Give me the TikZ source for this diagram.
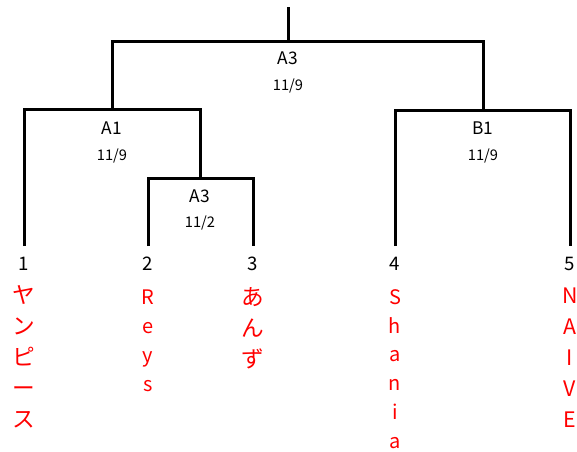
\documentclass[tikz,border=0pt]{standalone}
\usepackage{fontspec}
\setmainfont{Noto Sans CJK JP}
\usetikzlibrary{positioning}
\tikzset{
  bracket/.style={line width=2.25pt},
  matchname/.style={font=\fontsize{13}{15}\selectfont},
  matchdate/.style={font=\fontsize{11}{13}\selectfont},
  seed/.style={font=\fontsize{14}{16}\selectfont},
  player/.style={text=red,align=center,anchor=north,inner sep=0pt,font=\fontsize{17}{23.25}\selectfont},
  latinplayer/.style={player,font=\fontsize{15}{21.6}\selectfont},
}

\begin{document}
\begin{tikzpicture}[x=0.75pt,y=-0.75pt]
	\useasboundingbox (0,0) rectangle (577,451);
	%seeds
	\node[seed] (S1) at (24,264) {1}; \coordinate (P1) at (24,246);
	\node[seed] (S2) at (148,264) {2}; \coordinate (P2) at (148,246);
	\node[seed] (S3) at (253,264) {3}; \coordinate (P3) at (253,246);
	\node[seed] (S4) at (395,264) {4}; \coordinate (P4) at (395,246);
	\node[seed] (S5) at (570,264) {5}; \coordinate (P5) at (570,246);
	
	%match points
	\coordinate (TOP) at (288,7);
	\coordinate (M_F) at (288,41);
	\coordinate (M_A1) at (112,109);
	\coordinate (M_A3) at (200,178);
	\coordinate (M_B1) at (483,110);
	
	%bracket lines
	\draw[bracket] (M_F) -- (TOP);
	\draw[bracket] (M_A1) |- (M_F) -| (M_B1);
	\draw[bracket] (P1) |- (M_A1) -| (M_A3);
	\draw[bracket] (P2) |- (M_A3) -| (P3);
	\draw[bracket] (P4) |- (M_B1) -| (P5);
	
	%match labels
	\node[matchname] (L_F) at (288,58) {A3};
	\node[matchdate] (D_F) at (288,86) {11/9};
	\node[matchname] (L_A1) at (112,128) {A1};
	\node[matchdate] (D_A1) at (112,156) {11/9};
	\node[matchname] (L_A3) at (200,196) {A3};
	\node[matchdate] (D_A3) at (200,223) {11/2};
	\node[matchname] (L_B1) at (483,128) {B1};
	\node[matchdate] (D_B1) at (483,156) {11/9};
	
	%players
	\node[player] (N1) at (24,285) {ヤ\\ン\\ピ\\ー\\ス};
	\node[latinplayer] (N2) at (148,290) {R\\e\\y\\s};
	\node[player] (N3) at (253,287) {あ\\ん\\ず};
	\node[latinplayer] (N4) at (395,289) {S\\h\\a\\n\\i\\a};
	\node[player,font=\fontsize{16}{23.25}\selectfont] (N5) at (570,288) {N\\A\\I\\V\\E};
\end{tikzpicture}
\end{document}
